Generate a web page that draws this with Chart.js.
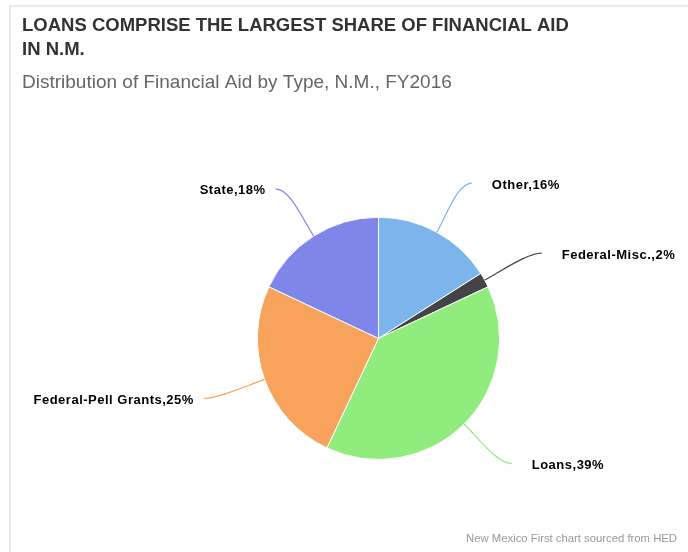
<!DOCTYPE html>
<html>
<head>
<meta charset="utf-8">
<script src="https://cdn.jsdelivr.net/npm/chart.js@4"></script>
<style>
  html, body { margin: 0; padding: 0; background: #fff; overflow: hidden; width: 688px; height: 552px; }
  #frame {
    position: absolute; left: 9px; top: 5px;
    width: 724px; height: 545px;
    border-left: 2px solid #e8e8e8; border-top: 2px solid #e8e8e8;
  }
</style>
</head>
<body>
<div id="frame"><canvas id="grafico" width="724" height="545"></canvas></div>
<script>
const categorias = ['Other', 'Federal-Misc.', 'Loans', 'Federal-Pell Grants', 'State'];
const percentuais = [16, 2, 39, 25, 18];
const cores = ['#7cb5ec', '#434348', '#90ed7d', '#f7a35c', '#8085e9'];

const fonte = '"Liberation Sans", Arial, sans-serif';

// labels with soft connectors, highcharts style
const rotulos = {
    id: 'rotulos',
    afterDatasetsDraw(chart) {
        const ctx = chart.ctx;
        const meta = chart.getDatasetMeta(0);
        ctx.save();
        meta.data.forEach((arc, i) => {
            const p = arc.getProps(['x', 'y', 'startAngle', 'endAngle', 'outerRadius'], true);
            const mid = (p.startAngle + p.endAngle) / 2;
            const dx = Math.cos(mid), dy = Math.sin(mid);
            const lado = dx >= 0 ? 1 : -1;
            const r = p.outerRadius;
            const x0 = p.x + dx * r, y0 = p.y + dy * r;
            const x2 = p.x + dx * (r + 56) + lado * 8;
            const y2 = p.y + dy * (r + 56);
            ctx.beginPath();
            ctx.moveTo(x0, y0);
            ctx.bezierCurveTo(x0 + dx * 22, y0 + dy * 22, x2 - lado * 14, y2, x2, y2);
            ctx.strokeStyle = cores[i];
            ctx.lineWidth = 1.2;
            ctx.stroke();
            ctx.font = 'bold 13px ' + fonte;
            ctx.letterSpacing = '0.5px';
            ctx.fillStyle = '#000';
            ctx.textBaseline = 'middle';
            ctx.textAlign = lado > 0 ? 'left' : 'right';
            ctx.fillText(categorias[i] + ',' + percentuais[i] + '%', x2 + (lado > 0 ? 20 : -10), y2 + 2);
        });
        // credits
        ctx.letterSpacing = '0px';
        ctx.font = '11.3px ' + fonte;
        ctx.fillStyle = '#999';
        ctx.textAlign = 'right';
        ctx.textBaseline = 'middle';
        ctx.fillText('New Mexico First chart sourced from HED', 666, 532);
        ctx.restore();
    }
};

const data = {
    labels: categorias,
    datasets: [{
        data: percentuais,
        backgroundColor: cores,
        borderColor: '#ffffff',
        borderWidth: 1,
        hoverOffset: 0
    }]
};

const config = {
    type: 'pie',
    data: data,
    options: {
        responsive: false,
        animation: false,
        layout: {
            padding: { left: 11, right: 0, top: 0, bottom: 92 }
        },
        plugins: {
            legend: { display: false },
            tooltip: { enabled: false },
            title: {
                display: true,
                text: ['LOANS COMPRISE THE LARGEST SHARE OF FINANCIAL AID', 'IN N.M.'],
                align: 'start',
                color: '#333333',
                font: { family: fonte, size: 18.5, weight: 'bold', lineHeight: 1.28 },
                padding: { top: 7, bottom: 0 }
            },
            subtitle: {
                display: true,
                text: 'Distribution of Financial Aid by Type, N.M., FY2016',
                align: 'start',
                color: '#666666',
                font: { family: fonte, size: 19, weight: 'normal', lineHeight: 1.2 },
                padding: { top: 10, bottom: 122.6 }
            }
        }
    },
    plugins: [rotulos]
};

const grafico = new Chart(document.getElementById('grafico'), config);
</script>
</body>
</html>
